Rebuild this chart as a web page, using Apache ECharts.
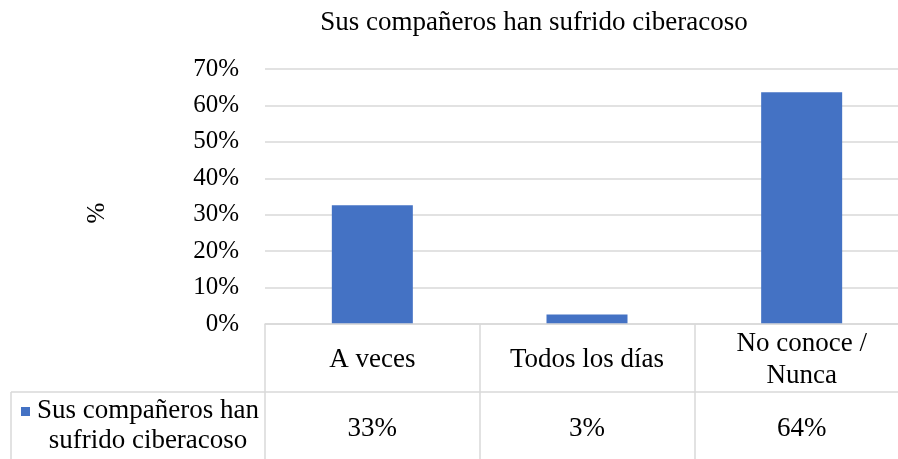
<!DOCTYPE html>
<html>
<head>
<meta charset="utf-8">
<script src="https://cdn.jsdelivr.net/npm/echarts@6/dist/echarts.min.js"></script>
<style>
  html, body { margin: 0; padding: 0; overflow: hidden; background: #fff; }
  #chart { width: 909px; height: 459px; }
</style>
</head>
<body>
<div id="chart"></div>
<script>
// datos
const titleText = 'Sus compañeros han sufrido ciberacoso'
const seriesName = 'Sus compañeros han sufrido ciberacoso'
const categories = ['A veces', 'Todos los días', 'No conoce /\nNunca']
const values = [0.326, 0.026, 0.636]
const yTicks = [0, 0.1, 0.2, 0.3, 0.4, 0.5, 0.6, 0.7]
const yName = '%'

const FONT = "'Liberation Serif', 'Times New Roman', serif"
const FS = 25      // eje y
const FS_TAB = 27  // tabla de datos
const GRID_COLOR = '#d9d9d9'
const BAR_COLOR = '#4472c4'
const pct = v => Math.round(v * 100) + '%'

const chart = echarts.init(document.getElementById('chart'))

chart.setOption({
  animation: false,
  textStyle: { fontFamily: FONT, color: '#000' },
  title: {
    text: titleText,
    left: 529,
    top: 4,
    textAlign: 'center',
    textStyle: { fontFamily: FONT, fontSize: 27, fontWeight: 'normal', color: '#000' }
  },
  grid: { left: 265, right: 0, top: 69, bottom: 135, containLabel: false },
  xAxis: [
    {
      type: 'category',
      data: categories,
      position: 'bottom',
      z: 5,
      axisLine: { show: true, lineStyle: { color: GRID_COLOR, width: 1.5 } },
      axisTick: { show: true, interval: 0, length: 140, lineStyle: { color: GRID_COLOR, width: 1.5 } },
      axisLabel: {
        interval: 0, margin: 36, verticalAlign: 'middle', lineHeight: 32,
        fontFamily: FONT, fontSize: FS_TAB, color: '#000'
      }
    },
    {
      type: 'category',
      data: categories,
      position: 'bottom',
      axisLine: { show: false },
      axisTick: { show: false },
      axisLabel: {
        interval: 0, margin: 105, verticalAlign: 'middle',
        fontFamily: FONT, fontSize: FS_TAB, color: '#000',
        formatter: (v, i) => pct(values[i])
      }
    }
  ],
  yAxis: {
    type: 'value',
    min: yTicks[0],
    max: yTicks[yTicks.length - 1],
    interval: 0.1,
    axisLine: { show: false },
    axisTick: { show: false },
    splitLine: { lineStyle: { color: GRID_COLOR, width: 1.5 } },
    axisLabel: {
      margin: 26, fontFamily: FONT, fontSize: FS, color: '#000',
      formatter: v => pct(v)
    }
  },
  series: [
    {
      name: seriesName,
      type: 'bar',
      data: values,
      barWidth: 81,
      itemStyle: { color: BAR_COLOR }
    }
  ],
  graphic: [
    // titulo del eje
    {
      type: 'text', x: 97, y: 213, rotation: Math.PI / 2,
      style: { text: yName, font: FS + 'px ' + FONT, fill: '#000', align: 'center', verticalAlign: 'middle' }
    },
    // tabla de datos
    { type: 'line', z: 10, shape: { x1: 11, y1: 392, x2: 909, y2: 392 }, style: { stroke: GRID_COLOR, lineWidth: 1.5 } },
    { type: 'line', z: 10, shape: { x1: 11, y1: 392, x2: 11, y2: 459 }, style: { stroke: GRID_COLOR, lineWidth: 1.5 } },
    { type: 'rect', z: 10, shape: { x: 21, y: 407, width: 9, height: 9 }, style: { fill: BAR_COLOR } },
    {
      type: 'text', z: 10, x: 148, y: 426,
      style: {
        text: seriesName.replace(' sufrido', '\nsufrido'),
        font: FS_TAB + 'px ' + FONT, fill: '#000',
        align: 'center', verticalAlign: 'middle', lineHeight: 30
      }
    }
  ]
})
</script>
</body>
</html>
